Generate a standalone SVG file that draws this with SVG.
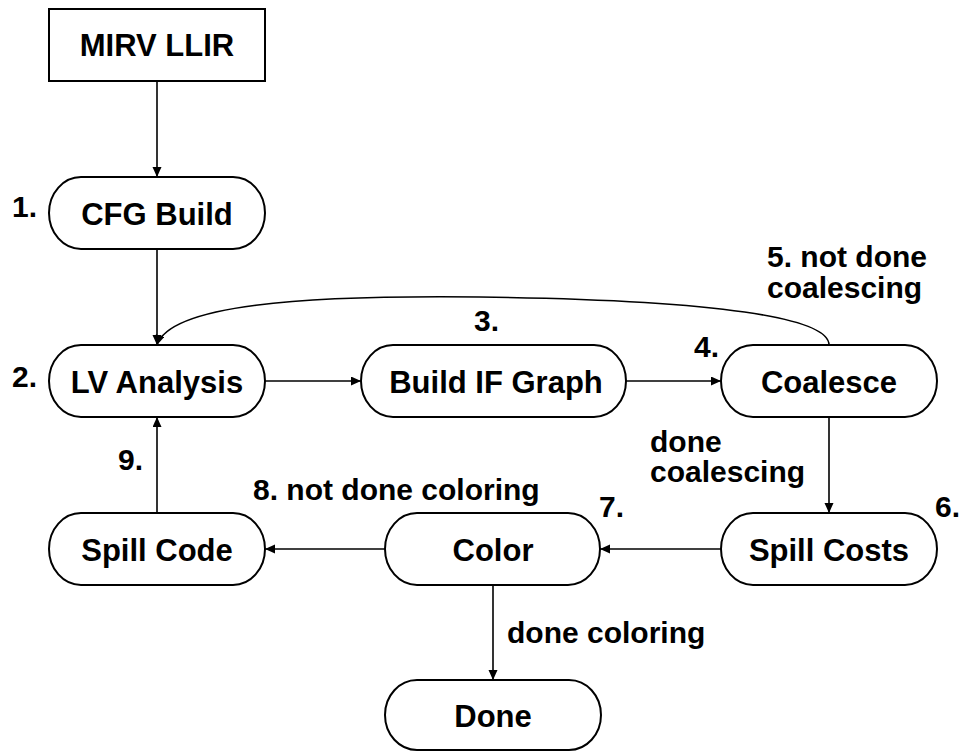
<svg xmlns="http://www.w3.org/2000/svg" width="961" height="751" viewBox="0 0 961 751">
  <style>
    .box { fill: #ffffff; stroke: #000000; stroke-width: 2; }
    .name { font-family: "Liberation Sans", Arial, sans-serif; font-weight: bold; font-size: 31px; fill: #000000; text-anchor: middle; }
    .lbl { font-family: "Liberation Sans", Arial, sans-serif; font-weight: bold; font-size: 30px; fill: #000000; }
    .edge { fill: none; stroke: #000000; stroke-width: 1.6; marker-end: url(#arrow); }
  </style>
  <defs>
    <marker id="arrow" markerUnits="userSpaceOnUse" markerWidth="11" markerHeight="10" refX="10" refY="4.5" orient="auto">
      <path d="M0,0 L10,4.5 L0,9 Z" fill="#000000"/>
    </marker>
  </defs>
  <rect width="961" height="751" fill="#ffffff"/>

  <!-- connectors -->
  <g id="connectors">
    <path class="edge" d="M157,81 L157,177"/>
    <path class="edge" d="M157,249 L157,345"/>
    <path class="edge" d="M265,381 L361,381"/>
    <path class="edge" d="M626,381 L721,381"/>
    <path class="edge" d="M829,417 L829,513"/>
    <path class="edge" d="M721,549 L600,549"/>
    <path class="edge" d="M385,549 L265,549"/>
    <path class="edge" d="M157,513 L157,417"/>
    <path class="edge" d="M493,585 L493,680"/>
    <path class="edge" d="M829,345 C829,318 720,300 480,297 C300,295 170,305 157,345"/>
  </g>

  <!-- connector labels -->
  <g id="labels">
    <text class="lbl" x="12" y="217">1.</text>
    <text class="lbl" x="12" y="387">2.</text>
    <text class="lbl" x="474" y="331">3.</text>
    <text class="lbl" x="694" y="357">4.</text>
    <text class="lbl" x="767" y="267">5. not done<tspan x="767" dy="31">coalescing</tspan></text>
    <text class="lbl" x="650" y="452">done<tspan x="650" dy="30">coalescing</tspan></text>
    <text class="lbl" x="935" y="517">6.</text>
    <text class="lbl" x="599" y="517">7.</text>
    <text class="lbl" x="253" y="500">8. not done coloring</text>
    <text class="lbl" x="118" y="470">9.</text>
    <text class="lbl" x="507" y="643">done coloring</text>
  </g>

  <!-- nodes -->
  <g id="mirv-llir">
    <rect class="box" x="49" y="9" width="216" height="72"/>
    <text class="name" x="157" y="56">MIRV LLIR</text>
  </g>
  <g id="cfg-build">
    <rect class="box" x="49" y="177" width="216" height="72" rx="32" ry="36"/>
    <text class="name" x="157" y="225">CFG Build</text>
  </g>
  <g id="lv-analysis">
    <rect class="box" x="49" y="345" width="216" height="72" rx="32" ry="36"/>
    <text class="name" x="157" y="393">LV Analysis</text>
  </g>
  <g id="build-if-graph">
    <rect class="box" x="361" y="345" width="265" height="72" rx="32" ry="36"/>
    <text class="name" x="496" y="393">Build IF Graph</text>
  </g>
  <g id="coalesce">
    <rect class="box" x="721" y="345" width="216" height="72" rx="32" ry="36"/>
    <text class="name" x="829" y="393">Coalesce</text>
  </g>
  <g id="spill-costs">
    <rect class="box" x="721" y="513" width="216" height="72" rx="32" ry="36"/>
    <text class="name" x="829" y="561">Spill Costs</text>
  </g>
  <g id="color">
    <rect class="box" x="385" y="513" width="215" height="72" rx="32" ry="36"/>
    <text class="name" x="493" y="561">Color</text>
  </g>
  <g id="spill-code">
    <rect class="box" x="49" y="513" width="216" height="72" rx="32" ry="36"/>
    <text class="name" x="157" y="561">Spill Code</text>
  </g>
  <g id="done">
    <rect class="box" x="385" y="680" width="216" height="70" rx="32" ry="35"/>
    <text class="name" x="493" y="727">Done</text>
  </g>
</svg>
